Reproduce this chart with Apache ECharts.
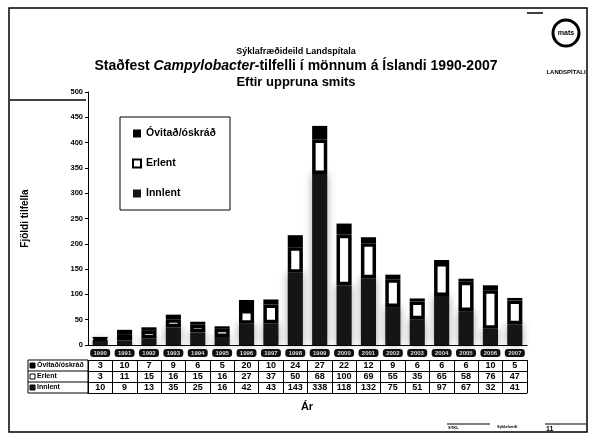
<!DOCTYPE html>
<html>
<head>
<meta charset="utf-8">
<script src="https://cdn.jsdelivr.net/npm/echarts@6/dist/echarts.min.js"></script>
<style>
  html, body { margin: 0; padding: 0; background: #fff; }
  #chart { width: 592px; height: 440px; }
</style>
</head>
<body>
<div id="chart"></div>
<script>
// ár
const years = ['1990', '1991', '1992', '1993', '1994', '1995', '1996', '1997', '1998',
  '1999', '2000', '2001', '2002', '2003', '2004', '2005', '2006', '2007']
// fjöldi tilfella eftir uppruna
const ovitad = [3, 10, 7, 9, 6, 5, 20, 10, 24, 27, 22, 12, 9, 6, 6, 6, 10, 5]
const erlent = [3, 11, 15, 16, 15, 16, 27, 37, 50, 68, 100, 69, 55, 35, 65, 58, 76, 47]
const innlent = [10, 9, 13, 35, 25, 16, 42, 43, 143, 338, 118, 132, 75, 51, 97, 67, 32, 41]
const yTicks = [0, 50, 100, 150, 200, 250, 300, 350, 400, 450, 500]

const names = ['Óvitað/óskráð', 'Erlent', 'Innlent']
const font = 'Liberation Sans'

const chart = echarts.init(document.getElementById('chart'))

// töflulínur undir ásnum
const rowAxis = (data, offset, showLine) => ({
  type: 'category',
  data: data.map(String),
  position: 'bottom',
  offset: offset,
  axisLine: { show: true, lineStyle: { color: '#000', width: 1 } },
  axisTick: { show: showLine, length: 11, lineStyle: { color: '#000', width: 1 } },
  axisLabel: {
    show: showLine,
    margin: 1,
    fontSize: 9,
    fontWeight: 'bold',
    fontFamily: font,
    color: '#000',
    interval: 0
  }
})

const keyRow = (y, fill, label) => [
  { type: 'rect', shape: { x: 30, y: y + 3, width: 5, height: 5 }, style: { fill: fill, stroke: '#000', lineWidth: 1 } },
  { type: 'text', x: 37, y: y + 2, style: { text: label, font: 'bold 7px "Liberation Sans"', fill: '#000' } }
]

const option = {
  animation: false,
  title: [
    { text: 'Sýklafræðideild Landspítala', left: 'center', top: 42,
      textStyle: { fontSize: 9, fontWeight: 'bold', fontFamily: font, color: '#000' } },
    { text: '{b|Staðfest }{i|Campylobacter}{b|-tilfelli í mönnum á Íslandi 1990-2007}', left: 'center', top: 54,
      textStyle: { rich: {
        b: { fontSize: 14, fontWeight: 'bold', fontFamily: font, color: '#000' },
        i: { fontSize: 14, fontWeight: 'bold', fontStyle: 'italic', fontFamily: font, color: '#000' }
      } } },
    { text: 'Eftir uppruna smits', left: 'center', top: 71,
      textStyle: { fontSize: 13, fontWeight: 'bold', fontFamily: font, color: '#000' } }
  ],
  legend: {
    data: names,
    orient: 'vertical',
    left: 120,
    top: 117,
    icon: 'rect',
    itemWidth: 8,
    itemHeight: 8,
    itemGap: 19,
    padding: [11, 14, 11, 12],
    borderColor: '#000',
    borderWidth: 1,
    backgroundColor: '#fff',
    textStyle: { fontSize: 10.5, fontWeight: 'bold', fontFamily: font, color: '#000' }
  },
  grid: { left: 88, right: 65, top: 92, bottom: 95 },
  xAxis: [
    {
      type: 'category',
      data: years,
      axisLine: { lineStyle: { color: '#000', width: 1 } },
      axisTick: { show: false },
      axisLabel: {
        interval: 0,
        margin: 4,
        formatter: v => '{y|' + v + '}',
        rich: {
          y: { backgroundColor: '#111', color: '#ddd', borderRadius: 3, width: 20, height: 8,
            align: 'center', fontSize: 6, fontWeight: 'bold', fontFamily: font }
        }
      }
    },
    rowAxis(ovitad, 15, true),
    rowAxis(erlent, 26, true),
    rowAxis(innlent, 37, true),
    rowAxis(innlent, 48, false)
  ],
  yAxis: {
    type: 'value',
    min: 0,
    max: 500,
    interval: 50,
    name: 'Fjöldi tilfella',
    nameLocation: 'middle',
    nameGap: 58,
    nameRotate: 90,
    nameTextStyle: { fontSize: 10, fontWeight: 'bold', fontFamily: font, color: '#000' },
    axisLine: { show: true, lineStyle: { color: '#000', width: 1 } },
    axisTick: { show: true, length: 3, lineStyle: { color: '#000' } },
    axisLabel: { fontSize: 7.5, fontWeight: 'bold', fontFamily: font, color: '#000', margin: 5,
      formatter: v => yTicks.includes(v) ? String(v) : '' },
    splitLine: { show: false }
  },
  series: [
    {
      name: 'Innlent', type: 'bar', stack: 'a', data: innlent, barWidth: '62%',
      itemStyle: { color: '#151515', shadowColor: 'rgba(0,0,0,0.35)', shadowBlur: 8 }
    },
    {
      name: 'Erlent', type: 'bar', stack: 'a', data: erlent,
      itemStyle: { color: '#fff', borderColor: '#000', borderWidth: 3.5 }
    },
    {
      name: 'Óvitað/óskráð', type: 'bar', stack: 'a', data: ovitad,
      itemStyle: { color: '#000' }
    }
  ],
  graphic: [
    // rammi glærunnar
    { type: 'rect', shape: { x: 9, y: 8, width: 578, height: 424 }, style: { fill: 'none', stroke: '#000', lineWidth: 1.5 } },
    { type: 'line', shape: { x1: 10, y1: 100, x2: 86, y2: 100 }, style: { stroke: '#000', lineWidth: 1.5 } },
    { type: 'line', shape: { x1: 527, y1: 13, x2: 543, y2: 13 }, style: { stroke: '#000', lineWidth: 1.5 } },
    // merki efst til hægri
    { type: 'circle', shape: { cx: 566, cy: 33, r: 13 }, style: { fill: 'none', stroke: '#000', lineWidth: 3 } },
    { type: 'text', x: 566, y: 33, style: { text: 'mats', font: 'bold 7px "Liberation Sans"', fill: '#000', align: 'center', verticalAlign: 'middle' } },
    { type: 'text', x: 566, y: 72, style: { text: 'LANDSPÍTALI', font: 'bold 6px "Liberation Sans"', fill: '#000', align: 'center', verticalAlign: 'middle' } },
    // töfluhaus vinstra megin
    { type: 'rect', shape: { x: 28, y: 360, width: 60, height: 33 }, style: { fill: 'none', stroke: '#000', lineWidth: 1 } },
    { type: 'line', shape: { x1: 28, y1: 371, x2: 88, y2: 371 }, style: { stroke: '#000', lineWidth: 1 } },
    { type: 'line', shape: { x1: 28, y1: 382, x2: 88, y2: 382 }, style: { stroke: '#000', lineWidth: 1 } },
    ...keyRow(360, '#000', names[0]),
    ...keyRow(371, '#fff', names[1]),
    ...keyRow(382, '#151515', names[2]),
    { type: 'text', x: 307, y: 407, style: { text: 'Ár', font: 'bold 11px "Liberation Sans"', fill: '#000', align: 'center', verticalAlign: 'middle' } },
    // fótur
    { type: 'line', shape: { x1: 447, y1: 424, x2: 490, y2: 424 }, style: { stroke: '#000', lineWidth: 1 } },
    { type: 'text', x: 448, y: 428, style: { text: 'SÝKL', font: 'bold 4px "Liberation Sans"', fill: '#000', verticalAlign: 'middle' } },
    { type: 'text', x: 497, y: 427, style: { text: 'Sýklafræði', font: 'bold 4px "Liberation Sans"', fill: '#000', verticalAlign: 'middle' } },
    { type: 'line', shape: { x1: 545, y1: 424, x2: 586, y2: 424 }, style: { stroke: '#000', lineWidth: 1 } },
    { type: 'text', x: 546, y: 429, style: { text: '11', font: 'bold 7px "Liberation Sans"', fill: '#000', verticalAlign: 'middle' } }
  ]
}

chart.setOption(option)
</script>
</body>
</html>
